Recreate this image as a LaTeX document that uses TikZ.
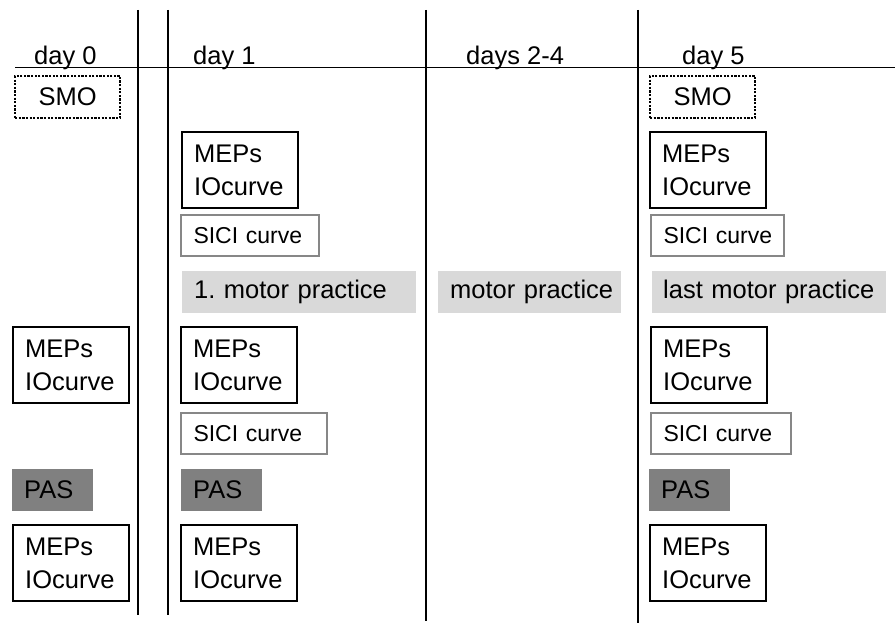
\documentclass[tikz,border=0pt]{standalone}
\usepackage{fontspec}
\setmainfont{Liberation Sans}
\definecolor{lightbar}{RGB}{217,217,217}
\definecolor{pasgray}{RGB}{128,128,128}
\definecolor{sicigray}{RGB}{135,135,135}
\newcommand\fsA{\fontsize{25.5}{33}\selectfont\frenchspacing}
\newcommand\fsB{\fontsize{23}{28}\selectfont\frenchspacing}
\begin{document}
\begin{tikzpicture}[x=1pt,y=-1pt,
  meps/.style={draw, line width=2.4pt, anchor=north west, inner xsep=12pt, inner ysep=0pt,
    text width=92pt, minimum height=76pt, align=left, font=\fsA},
  sici/.style={draw=sicigray, line width=2pt, anchor=north west, inner xsep=12.5pt, inner ysep=0pt,
    minimum height=41pt, align=left, font=\fsB},
  motor/.style={fill=lightbar, anchor=north west, inner xsep=12pt, inner ysep=0pt,
    minimum height=42pt, align=left, font=\fsA},
  pasbox/.style={fill=pasgray, anchor=north west, inner xsep=12pt, inner ysep=0pt,
    minimum height=42pt, text width=57pt, align=left, font=\fsA},
  smo/.style={draw, dash pattern=on 2.2pt off 1.4pt, line width=2.2pt, anchor=north west,
    minimum width=105pt, minimum height=42pt, inner sep=0pt, font=\fsA},
  dayl/.style={anchor=base west, inner sep=0pt, font=\fsA},
  thickline/.style={line width=2.5pt},
  thinline/.style={line width=1.3pt}
]
\useasboundingbox (0,0) rectangle (895,623);

% grid lines
\coordinate (h1) at (15,67.5);
\coordinate (h2) at (895,67.5);
\draw[thinline] (h1) -- (h2);
\coordinate (v1t) at (138,10); \coordinate (v1b) at (138,615);
\coordinate (v2t) at (168,10); \coordinate (v2b) at (168,615);
\coordinate (v3t) at (426,10); \coordinate (v3b) at (426,621);
\coordinate (v4t) at (638,10); \coordinate (v4b) at (638,623);
\draw[thickline] (v1t) -- (v1b);
\draw[thickline] (v2t) -- (v2b);
\draw[thinline] (v3t) -- (v3b);
\draw[thinline] (v4t) -- (v4b);

% headers
\node[dayl] (d0) at (34,65) {day 0};
\node[dayl] (d1) at (193,65) {day 1};
\node[dayl] (d24) at (466,65) {days 2-4};
\node[dayl] (d5) at (682,65) {day 5};

% day 0
\node[smo] (smo0) at (14,75) {SMO};
\node[meps] (m0b) at (12,326) {MEPs\\IOcurve};
\node[pasbox] (pas0) at (12,469) {PAS};
\node[meps] (m0c) at (12,524) {MEPs\\IOcurve};

% day 1
\node[meps] (m1a) at (181,131) {MEPs\\IOcurve};
\node[sici, text width=113pt] (s1a) at (180,214) {\mbox{SICI curve}};
\node[motor, text width=210pt] (mp1) at (182,271) {\mbox{1. motor practice}};
\node[meps] (m1b) at (180,326) {MEPs\\IOcurve};
\node[sici, text width=121pt] (s1b) at (180,412) {\mbox{SICI curve}};
\node[pasbox] (pas1) at (181,469) {PAS};
\node[meps] (m1c) at (180,524) {MEPs\\IOcurve};

% days 2-4
\node[motor, text width=159pt] (mp24) at (438,271) {\mbox{motor practice}};

% day 5
\node[smo] (smo5) at (649,75) {SMO};
\node[meps] (m5a) at (649,131) {MEPs\\IOcurve};
\node[sici, text width=108pt] (s5a) at (650,214) {\mbox{SICI curve}};
\node[motor, inner xsep=11pt, text width=212pt] (mp5) at (652,271) {\mbox{last motor practice}};
\node[meps] (m5b) at (650,326) {MEPs\\IOcurve};
\node[sici, text width=115pt] (s5b) at (650,412) {\mbox{SICI curve}};
\node[pasbox] (pas5) at (649,469) {PAS};
\node[meps] (m5c) at (649,524) {MEPs\\IOcurve};
\end{tikzpicture}
\end{document}
